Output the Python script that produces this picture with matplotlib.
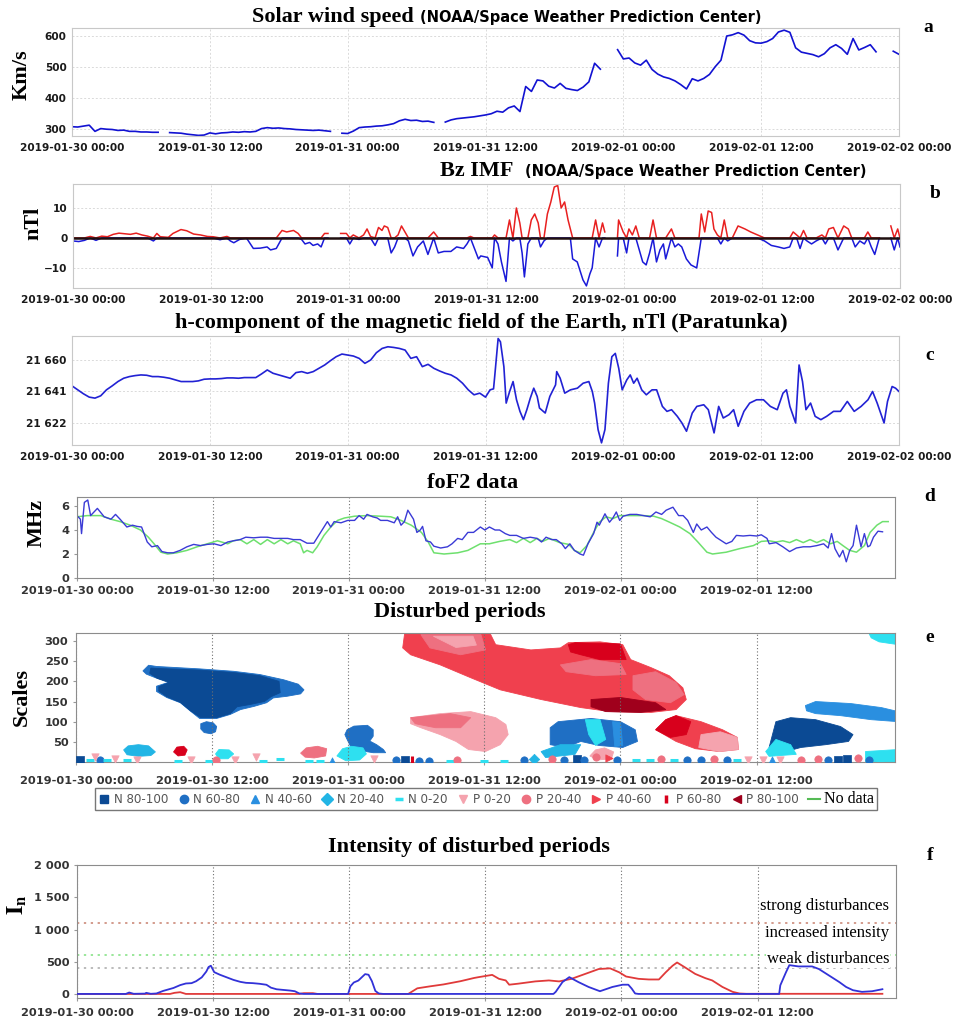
import numpy as np
import pandas as pd
import matplotlib
matplotlib.use('Agg')
import matplotlib.pyplot as plt
from matplotlib.ticker import FuncFormatter, FixedLocator, MultipleLocator
from matplotlib.patches import Polygon
from matplotlib.lines import Line2D

plt.rcParams['mathtext.fontset'] = 'stix'

W, H = 961, 1018
START = pd.Timestamp('2019-01-30 00:00')
SERIF = 'Liberation Serif'

# a: solar wind speed (km/s), one value every 30 min from 2019-01-30 00:00, nan = gap
WIND_SPEED = [
    307, 306, 309, 312, 292, 301, 299, 298, 295, 296, 292, 292, 290, 290, 289, 289,
    np.nan, 288, 287, 286, 283, 281, 279, 280, 287, 284, 287, 288, 290, 289, 291, 290,
    292, 301, 304, 302, 303, 301, 300, 298, 297, 296, 295, 296, 294, 292, np.nan, 286,
    285, 293, 304, 306, 307, 309, 310, 313, 317, 326, 331, 327, 328, 324, 325, 321,
    np.nan, 322, 329, 333, 335, 337, 339, 342, 345, 349, 357, 354, 368, 374, 356, 437,
    421, 458, 455, 438, 432, 447, 431, 427, 424, 435, 452, 512, 493, np.nan, np.nan, 556,
    526, 529, 513, 506, 522, 492, 477, 468, 463, 455, 443, 429, 462, 455, 463, 476,
    501, 522, 600, 604, 611, 603, 585, 578, 577, 582, 592, 613, 619, 612, 562, 548,
    544, 540, 533, 543, 562, 572, 560, 541, 592, 555, 563, 572, 549, np.nan, np.nan, 551,
    541,
]

# b: Bz IMF (hour, nT)
BZ_POINTS = [
    (0, -1), (0.5, -1.2), (1, -0.8), (1.5, 0.5), (2, -0.8), (2.5, 0.6), (3, 0.4), (3.5, 1.2),
    (4, 1.6), (4.5, 1.4), (5, 1.2), (5.5, 1.6), (6, 1.0), (6.5, 0.6), (7, -1), (7.3, 1.5),
    (7.6, 0.4), (8.3, 0.2), (8.7, 1.5), (9.4, 2.8), (9.9, 2.4), (10.5, 1.3), (11.1, 1.0),
    (11.7, 0.5), (12.2, 0.4), (12.8, -0.6), (13.4, 0.5), (13.7, -1), (14, -1.6), (14.5, -0.5),
    (15.1, 0.0), (15.7, -3.5), (16.3, -3.4), (16.9, -3.0), (17.2, -4), (17.7, -3.5), (18.2, 2.5),
    (18.6, 2.0), (19.2, 2.5), (19.6, 1.5), (19.9, -0.5), (20.2, -2), (20.6, -1.5), (20.9, -2.5),
    (21.3, -2), (21.6, -3), (21.9, 1.5), (22.2, 1.5), (22.6, np.nan), (23.3, 1.5), (23.8, 1.5),
    (24.1, -2), (24.4, 1), (24.9, -0.5), (25.3, 1), (25.6, 3), (25.9, 0.5), (26.3, -2.5),
    (26.6, 3.5), (26.9, 2.5), (27.1, 4), (27.4, 3.5), (27.7, -5), (28, -3), (28.3, 1), (28.6, 4),
    (28.9, 2), (29.2, -1), (29.6, -6), (30, -3), (30.5, -1), (30.9, -5.5), (31.4, 2), (31.8, -5),
    (32.3, -4.5), (32.9, -4.5), (33.4, -3), (34, -3.5), (34.3, -2), (34.6, 0.5), (34.9, -3),
    (35.3, -7), (35.5, -6), (36.1, -6.5), (36.5, -10), (36.7, 1), (37, -2), (37.3, -8),
    (37.7, -14.5), (38, 6), (38.3, -1), (38.6, 10), (38.9, 5), (39.1, -5), (39.3, -13),
    (39.6, -2), (39.9, 6), (40.2, 8), (40.5, 5), (40.7, -3), (41, -1), (41.3, 8), (41.6, 12),
    (41.9, 17), (42.2, 17.5), (42.5, 10), (42.8, 12), (43.1, 6), (43.3, 3), (43.5, -7),
    (43.9, -8), (44.4, -14), (44.7, -16), (45, -12), (45.2, -10), (45.5, 6), (45.8, -3),
    (46.1, 5), (46.3, 2), (46.8, np.nan), (47.4, -6), (47.5, 6), (47.9, 2), (48.2, -5),
    (48.4, 3), (48.7, 1), (49, 4), (49.3, -4), (49.6, -8), (49.9, -9), (50.2, -5), (50.5, 6),
    (50.8, -8), (51.1, -4), (51.4, -2), (51.6, -7), (52.1, 3), (52.4, -3), (52.7, -2), (53, -3),
    (53.4, -7), (53.8, -9), (54.3, -10), (54.5, -5), (54.7, 8), (55, 2), (55.3, 9), (55.6, 8.5),
    (55.8, 3), (56.1, 1), (56.4, -2), (56.7, 6), (57, -1), (57.4, 0), (57.9, 4), (58.5, 3),
    (59, 2), (59.6, 1), (60.2, -1), (60.8, -2.5), (61.4, -3), (61.9, -3.5), (62.4, -3), (62.7, 2),
    (63, 1), (63.3, -3.5), (63.6, 2.5), (63.9, -1), (64.3, -2), (64.7, -1), (65.2, 1), (65.5, -2),
    (65.8, 3), (66.2, 3.5), (66.6, -4), (67.1, 4), (67.5, 3), (67.8, 0), (68.1, -3), (68.5, -1),
    (68.9, -2), (69.2, 2), (69.5, -3), (69.8, -5.5), (70.2, 0), (70.7, np.nan), (71.2, 4),
    (71.5, -4), (71.8, 3), (72, -3),
]

# c: H-component at Paratunka (hour, nT)
H_POINTS = [
    (0, 21644.4), (0.5, 21642), (1, 21639.6), (1.5, 21637.6), (2, 21637), (2.5, 21638.4),
    (3, 21642), (3.5, 21644.4), (4, 21647), (4.5, 21649), (5, 21650), (5.5, 21650.6), (6, 21651),
    (6.5, 21650.8), (7, 21650), (7.5, 21650), (8, 21649.6), (8.5, 21649), (9, 21648), (9.5, 21647),
    (10, 21647), (10.5, 21647), (11, 21647.4), (11.5, 21648.4), (12, 21648.6), (12.5, 21648.6),
    (13, 21648.8), (13.5, 21649.2), (14, 21649.2), (14.5, 21649), (15, 21649.4), (15.5, 21649.4),
    (16, 21649.4), (16.5, 21651.6), (17, 21654), (17.5, 21652), (18, 21651), (18.5, 21650),
    (19, 21649), (19.5, 21652.4), (20, 21653), (20.5, 21652), (21, 21653), (21.5, 21655),
    (22, 21657), (22.5, 21659.6), (23, 21662), (23.5, 21663.6), (24, 21663), (24.5, 21662.4),
    (25, 21661), (25.5, 21658), (26, 21660), (26.5, 21664.4), (27, 21667), (27.5, 21668),
    (28, 21667.6), (28.5, 21667), (29, 21666), (29.5, 21661), (30, 21662), (30.5, 21656),
    (31, 21657.4), (31.5, 21655), (32, 21653.4), (32.5, 21652), (33, 21651), (33.5, 21649),
    (34, 21646), (34.5, 21642), (35, 21639), (35.5, 21640), (36, 21637.6), (36.4, 21642),
    (36.7, 21642.6), (36.8, 21650), (37.1, 21673), (37.3, 21671), (37.6, 21656), (37.8, 21634),
    (38.1, 21641), (38.4, 21647), (38.7, 21636), (39, 21629), (39.3, 21624), (39.6, 21630),
    (39.9, 21637), (40.2, 21643), (40.5, 21638), (40.7, 21631), (41.2, 21628), (41.6, 21638),
    (42.1, 21645), (42.2, 21653), (42.5, 21649), (42.9, 21640), (43.4, 21642), (44, 21643),
    (44.5, 21646), (45, 21647), (45.3, 21641), (45.5, 21634), (45.8, 21618), (46.1, 21610),
    (46.4, 21618), (46.7, 21646), (47, 21662), (47.3, 21664), (47.6, 21655), (47.9, 21642),
    (48.3, 21648), (48.6, 21651), (48.9, 21646), (49.2, 21649), (49.6, 21642), (50, 21639),
    (50.5, 21642), (50.9, 21642), (51.4, 21632), (51.8, 21629), (52.2, 21630), (52.7, 21626),
    (53.1, 21622), (53.5, 21617), (54, 21628), (54.4, 21632), (55, 21633), (55.4, 21630),
    (55.9, 21616), (56.3, 21632), (56.7, 21625), (57.2, 21627), (57.6, 21630), (58, 21620),
    (58.5, 21629), (59, 21634), (59.6, 21636), (60.2, 21636), (60.8, 21632), (61.4, 21630),
    (61.9, 21640), (62.2, 21642), (62.5, 21632), (63, 21622), (63.3, 21657), (63.6, 21647),
    (63.9, 21630), (64.3, 21634), (64.7, 21626), (65.2, 21624), (65.7, 21626), (66.3, 21629),
    (66.9, 21629), (67.5, 21635), (68.1, 21629), (68.7, 21632), (69.3, 21636), (69.7, 21641),
    (70.1, 21634), (70.4, 21628), (70.7, 21622), (71, 21635), (71.4, 21644), (71.7, 21643),
    (72, 21641),
]

# d: foF2 (hour, MHz): observed and median
FOF2_OBS = [
    (0, 5.2), (0.3, 4.9), (0.4, 3.7), (0.65, 6.3), (0.95, 6.5), (1.2, 5.2), (1.8, 5.8), (2.4, 5.1),
    (3, 4.9), (3.4, 5.3), (3.8, 4.9), (4.4, 4.25), (4.9, 4.4), (5.3, 4.3), (5.7, 4.25), (6.2, 3.0),
    (6.6, 2.6), (7.1, 2.7), (7.5, 2.2), (8, 2.1), (8.5, 2.1), (9.1, 2.3), (9.7, 2.6), (10.3, 2.8),
    (10.9, 2.7), (11.5, 2.8), (12.1, 2.85), (12.7, 2.7), (13.3, 3.0), (13.8, 3.1), (14.4, 3.2),
    (14.9, 3.4), (15.6, 3.35), (16.2, 3.4), (16.8, 3.4), (17.4, 3.3), (18, 3.3), (18.6, 3.3),
    (19.1, 3.2), (19.7, 3.2), (20.3, 2.9), (20.9, 2.9), (21.5, 3.8), (22.1, 4.7), (22.4, 4.25),
    (22.7, 4.7), (23.3, 4.6), (23.9, 4.8), (24.5, 4.8), (24.9, 5.2), (25.3, 4.9), (25.6, 5.3),
    (26.1, 5.1), (26.5, 5.0), (26.8, 4.8), (27.4, 4.8), (28, 4.6), (28.3, 5.1), (28.6, 4.4),
    (28.9, 4.7), (29.2, 5.65), (29.7, 4.9), (30, 3.8), (30.3, 4.0), (30.5, 4.3), (30.8, 3.1),
    (31.2, 3.0), (31.5, 2.65), (32.1, 2.5), (32.7, 2.6), (33.1, 2.85), (33.6, 3.3), (34, 3.2),
    (34.5, 3.8), (35, 3.8), (35.6, 4.25), (36, 4.0), (36.4, 4.25), (36.9, 4.0), (37.3, 4.0),
    (37.8, 3.7), (38.2, 3.55), (38.8, 3.55), (39.4, 3.3), (40, 3.4), (40.6, 3.3), (41, 3.0),
    (41.4, 3.4), (41.9, 3.2), (42.3, 3.2), (42.8, 2.85), (43.1, 2.45), (43.5, 2.85), (43.9, 2.3),
    (44.4, 2.0), (44.7, 1.9), (45.1, 2.85), (45.6, 3.7), (45.9, 4.65), (46.1, 4.4), (46.6, 5.35),
    (47, 4.65), (47.3, 5.0), (47.6, 5.5), (47.9, 4.8), (48.2, 5.15), (48.8, 5.3), (49.4, 5.3),
    (50, 5.2), (50.6, 5.1), (51.1, 5.5), (51.6, 5.3), (52, 5.65), (52.6, 5.9), (53.1, 5.2),
    (53.5, 5.2), (53.9, 4.8), (54.4, 3.8), (54.7, 4.5), (55.1, 4.0), (55.6, 4.25), (56, 3.8),
    (56.4, 3.4), (56.9, 3.1), (57.3, 2.85), (57.8, 3.05), (58.2, 3.55), (58.8, 3.5), (59.4, 3.55),
    (60, 3.5), (60.4, 3.6), (60.9, 3.3), (61.1, 2.85), (61.7, 2.95), (62.3, 2.6), (62.9, 2.2),
    (63.5, 2.5), (64.1, 2.6), (64.7, 2.6), (65.3, 2.7), (65.9, 2.85), (66.3, 2.5), (66.6, 3.7),
    (66.9, 2.45), (67.3, 1.75), (67.6, 2.3), (67.9, 1.35), (68.2, 2.3), (68.5, 2.7), (68.8, 4.4),
    (69.2, 2.6), (69.5, 3.7), (69.8, 2.6), (70, 2.7), (70.3, 3.4), (70.7, 3.9), (71.1, 3.85),
]
FOF2_MEDIAN = [
    (0, 5.1), (0.9, 5.2), (2.1, 5.2), (3, 4.9), (3.8, 4.7), (4.7, 4.4), (5.6, 4.0), (6.3, 3.4),
    (6.8, 2.85), (7.4, 2.15), (8, 2.0), (8.8, 2.1), (9.7, 2.3), (10.6, 2.6), (11.5, 2.85),
    (12.4, 3.1), (13.3, 2.85), (13.8, 3.1), (14.4, 3.2), (15, 2.85), (15.6, 3.2), (16.2, 2.8),
    (16.8, 3.2), (17.4, 2.85), (18, 3.2), (18.6, 2.85), (19.1, 3.1), (19.7, 2.85), (20, 2.1),
    (20.3, 2.3), (20.8, 2.1), (21.2, 2.6), (21.8, 3.55), (22.4, 4.25), (23, 4.8), (23.6, 5.0),
    (24.5, 5.15), (25.6, 5.2), (26.8, 5.15), (27.7, 5.1), (28.6, 4.8), (29.5, 4.4), (30.4, 3.8),
    (31, 3.0), (31.5, 2.1), (32.4, 2.0), (33.6, 2.1), (34.5, 2.3), (35.6, 2.85), (36.4, 2.85),
    (37.3, 3.05), (38.2, 3.2), (38.8, 2.95), (39.4, 3.3), (40, 2.95), (40.6, 3.3), (41.1, 3.05),
    (41.7, 3.3), (42.6, 2.95), (43.4, 2.8), (43.9, 2.3), (44.4, 2.1), (45, 2.7), (45.6, 3.8),
    (46.1, 4.65), (46.7, 5.1), (47.3, 4.95), (47.9, 5.2), (48.8, 5.2), (50, 5.2), (50.9, 5.15),
    (51.6, 4.95), (52.3, 4.65), (53.2, 4.25), (54.1, 3.7), (54.8, 3.0), (55.6, 2.15), (56.1, 2.0),
    (57.3, 2.15), (58.5, 2.45), (59.7, 2.7), (60.4, 3.05), (61.1, 3.1), (61.7, 3.0), (62.3, 3.1),
    (62.9, 2.95), (63.5, 3.2), (64.1, 2.95), (64.7, 3.2), (65.3, 2.95), (65.9, 3.2), (66.5, 2.85),
    (67.1, 3.05), (67.6, 2.7), (68.2, 2.3), (68.8, 2.15), (69.5, 2.7), (70, 3.8), (70.6, 4.4),
    (71.1, 4.7), (71.6, 4.7),
]

# e: disturbed periods, outlines in (hour, scale); class 0..4 = N 80-100..N 0-20, 5..9 = P 0-20..P 80-100
CLASS_COLORS = ['#0b4a94', '#1f6fc4', '#2a8fe0', '#22b5e5', '#2ee0f0',
                '#f5a3ae', '#ee7080', '#f0404e', '#d8001c', '#a0001c']
CLASS_MARKERS = ['s', 'o', '^', 'D', '_', 'v', 'o', '>', '|', '<']
LEGEND_LABELS = ['N 80-100', 'N 60-80', 'N 40-60', 'N 20-40', 'N 0-20',
                 'P 0-20', 'P 20-40', 'P 40-60', 'P 60-80', 'P 80-100', 'No data']

BLOBS = [
    # (class, outline)
    (7, [(28.8, 283), (29.0, 325), (36.4, 325), (37.0, 291), (40.1, 278), (42.7, 283), (43.4, 296),
         (46.2, 298), (48.2, 291), (48.9, 254), (50.7, 234), (52.3, 214), (53.5, 184), (53.8, 155),
         (52.9, 130), (50.7, 123), (47.1, 125), (44.5, 135), (41.0, 155), (37.4, 179), (34.8, 209),
         (32.1, 241), (29.5, 266)]),
    (6, [(30.4, 316), (35.7, 316), (36.1, 278), (33.9, 266), (31.2, 283)]),
    (5, [(31.5, 312), (35.0, 312), (35.3, 290), (33.5, 284)]),
    (6, [(42.7, 241), (45.4, 254), (48.0, 244), (48.5, 217), (45.8, 214), (43.2, 224)]),
    (6, [(49.1, 214), (51.1, 224), (52.9, 197), (53.6, 167), (52.4, 147), (50.2, 155), (49.1, 179)]),
    (8, [(43.4, 291), (44.0, 296), (48.0, 293), (48.5, 254), (46.2, 254), (44.5, 266), (43.6, 273)]),
    (9, [(45.4, 155), (48.0, 160), (51.1, 147), (52.0, 130), (49.8, 123), (46.7, 125), (45.4, 137)]),
    (1, [(5.9, 226), (6.4, 240), (7.1, 237), (10.9, 231), (13.9, 225), (16.2, 217), (18.3, 204),
         (19.6, 193), (20.1, 179), (19.8, 169), (18.6, 163), (17.4, 159), (16.8, 147), (15.7, 138),
         (14.5, 130), (13.6, 118), (12.4, 108), (10.9, 108), (10.1, 126), (9.2, 147), (8.0, 160),
         (7.1, 175), (7.1, 188), (8.3, 199), (7.1, 208), (6.2, 218)]),
    (0, [(6.6, 233), (7.2, 232), (10.9, 228), (13.9, 222), (16.2, 214), (17.9, 200), (18.0, 172),
         (17.2, 162), (16.6, 150), (15.4, 143), (14.2, 137), (13.6, 120), (12.4, 110), (11.0, 110),
         (10.1, 127), (9.2, 148), (8.0, 162), (7.3, 176), (7.3, 187), (8.2, 197), (7.2, 207),
         (6.5, 220)]),
    (1, [(11.0, 95), (11.5, 100), (12.1, 97), (12.4, 88), (12.3, 75), (11.9, 70), (11.3, 73), (11.0, 82)]),
    (1, [(23.9, 80), (24.5, 89), (25.7, 91), (26.2, 80), (26.2, 64), (25.9, 52), (26.5, 43), (27.1, 31),
         (27.3, 23), (26.2, 23), (25.1, 28), (24.2, 39), (23.9, 56), (23.7, 68)]),
    (5, [(29.5, 110), (32.1, 120), (34.8, 125), (37.0, 110), (37.9, 93), (38.1, 68), (37.4, 43),
         (36.1, 26), (34.6, 31), (33.5, 51), (32.1, 68), (30.4, 85), (29.5, 95)]),
    (6, [(29.5, 110), (33.0, 120), (34.8, 110), (33.9, 85), (31.7, 85), (29.9, 95)]),
    (1, [(41.8, 85), (42.5, 100), (45.4, 108), (48.0, 100), (49.3, 80), (49.5, 51), (48.2, 36),
         (46.1, 41), (44.5, 51), (43.2, 36), (41.8, 43)]),
    (4, [(44.9, 105), (46.2, 105), (46.7, 56), (45.8, 41), (45.2, 68)]),
    (2, [(47.3, 100), (48.0, 98), (48.2, 41), (47.5, 38)]),
    (3, [(41.0, 26), (42.7, 43), (44.5, 43), (44.0, 19), (41.4, 11)]),
    (7, [(51.1, 80), (52.0, 105), (52.9, 115), (55.1, 100), (57.0, 80), (58.3, 61), (58.4, 31),
         (56.7, 26), (54.6, 33), (52.9, 51)]),
    (8, [(51.1, 80), (52.0, 105), (52.9, 115), (54.2, 100), (53.8, 68), (52.4, 61)]),
    (5, [(55.1, 68), (56.8, 75), (58.3, 61), (58.4, 31), (56.7, 26), (54.9, 36)]),
    (0, [(61.7, 100), (63.0, 110), (65.2, 105), (67.4, 88), (68.5, 68), (68.1, 51), (66.1, 43),
         (63.9, 36), (62.6, 26), (61.3, 19), (61.1, 36)]),
    (4, [(60.8, 26), (61.7, 56), (63.0, 43), (63.5, 19), (61.1, 14)]),
    (2, [(64.3, 140), (65.2, 150), (68.3, 145), (71.0, 135), (72.5, 125), (72.5, 100), (70.1, 105),
         (67.4, 115), (65.2, 120), (64.4, 127)]),
    (4, [(69.8, 325), (72.5, 325), (72.5, 291), (70.8, 298), (70.1, 308)]),
    (4, [(69.6, 26), (72.5, 31), (72.5, 0), (69.6, 0)]),
    (3, [(4.2, 30), (4.6, 40), (5.5, 43), (6.4, 40), (7.0, 25), (6.6, 16), (5.5, 14), (4.5, 18)]),
    (8, [(8.6, 25), (8.9, 37), (9.5, 39), (9.8, 30), (9.6, 17), (9.0, 15)]),
    (4, [(12.3, 20), (12.6, 31), (13.5, 30), (13.9, 20), (13.4, 8), (12.6, 8)]),
    (6, [(19.8, 22), (20.3, 35), (21.3, 39), (22.1, 33), (22.0, 15), (21.0, 10), (20.2, 12)]),
    (4, [(23.0, 15), (23.5, 33), (24.3, 39), (25.3, 35), (25.6, 20), (25.0, 5), (23.8, 3)]),
    (5, [(45.3, 15), (45.8, 30), (46.6, 35), (47.4, 25), (47.2, 8), (46.0, 5)]),
]

# small single-scale events along the bottom (hour, scale, class)
EVENTS = [
    (0.35, 5, 0), (1.2, 5, 4), (1.7, 12, 5), (2.1, 5, 1), (2.7, 5, 4), (3.4, 8, 5), (4.5, 5, 4),
    (5.4, 5, 5), (9.0, 3, 4), (10.1, 5, 5), (11.7, 3, 4), (12.3, 5, 6), (14.0, 5, 5), (15.9, 12, 5),
    (16.5, 3, 4), (18.0, 8, 4), (20.5, 3, 4), (21.5, 3, 4), (22.6, 3, 2), (26.3, 8, 5), (28.2, 5, 1),
    (29.0, 5, 0), (29.6, 5, 8), (30.2, 3, 1), (31.1, 3, 1), (33.0, 3, 4), (33.6, 5, 6), (36.0, 3, 4),
    (37.7, 3, 4), (39.5, 5, 1), (40.4, 8, 3), (42.0, 8, 6), (43.0, 5, 1), (44.2, 8, 0), (44.8, 5, 1),
    (45.8, 12, 6), (47.0, 10, 7), (47.7, 5, 1), (49.4, 5, 4), (50.6, 5, 4), (51.6, 8, 6), (52.7, 5, 4),
    (53.9, 5, 1), (55.1, 5, 1), (56.2, 8, 6), (57.4, 5, 1), (58.3, 5, 4), (59.2, 5, 5), (60.6, 5, 5),
    (61.4, 5, 2), (62.1, 5, 5), (63.9, 5, 6), (65.4, 8, 6), (66.3, 5, 1), (67.2, 5, 0), (68.0, 8, 0),
    (68.9, 10, 6), (69.9, 5, 1), (70.9, 5, 4),
]

# f: intensity of disturbed periods (hour, I_n) for negative (N) and positive (P) periods
INTENSITY_N = [
    (0, 3), (4.3, 3), (4.6, 25), (5, 5), (6, 8), (6.1, 20), (6.5, 5), (7, 10), (7.6, 50), (8.5, 95),
    (9.1, 140), (9.6, 165), (10.1, 170), (10.5, 200), (11, 260), (11.4, 350), (11.6, 420),
    (11.8, 440), (12.1, 340), (12.6, 300), (13.2, 260), (13.8, 220), (14.4, 190), (14.9, 175),
    (15.5, 170), (16.1, 160), (16.7, 145), (17.1, 100), (17.6, 75), (18.2, 65), (18.8, 55),
    (19.2, 45), (19.6, 10), (20, 3), (23.9, 3), (24.1, 120), (24.4, 180), (24.8, 210), (25.1, 260),
    (25.4, 310), (25.7, 300), (26, 200), (26.3, 50), (26.6, 10), (27, 3), (42, 3), (42.2, 35),
    (42.8, 187), (43.4, 263), (44.2, 187), (45.1, 111), (46.1, 45), (47.2, 111), (48.1, 146),
    (48.6, 146), (48.9, 86), (49.2, 10), (49.5, 3), (61.9, 3), (62, 136), (62.5, 338), (62.8, 449),
    (63.6, 429), (64.8, 429), (65.4, 389), (66.3, 288), (67.2, 187), (67.8, 111), (68.4, 61),
    (69.2, 35), (70.1, 45), (71, 76),
]
INTENSITY_P = [
    (0, 3), (8.2, 3), (8.6, 20), (9.1, 30), (9.6, 3), (19.6, 3), (20, 15), (20.8, 15), (21.2, 3),
    (29.2, 3), (30, 90), (31.1, 120), (32.3, 150), (33.8, 200), (35, 250), (35.4, 263), (36.6, 298),
    (37.2, 237), (37.8, 212), (38.1, 146), (38.9, 162), (40.4, 197), (41.6, 212), (42.5, 197),
    (43.6, 237), (44.8, 313), (46, 389), (47, 399), (47.8, 338), (48.4, 273), (49.5, 237),
    (50.4, 227), (51.3, 227), (51.9, 338), (52.5, 439), (52.9, 490), (53.6, 414), (54.5, 313),
    (55.4, 247), (56, 212), (56.9, 111), (57.8, 35), (58.4, 10), (59, 5), (71, 5),
]
THRESHOLDS = [1100, 600, 400]
THRESHOLD_COLORS = ['#c8806e', '#7ee07e', '#a8a8a8']
THRESHOLD_LABELS = ['strong disturbances', 'increased intensity', 'weak disturbances']
THRESHOLD_LABEL_Y = [1360, 945, 545]


def hour_label(h, pos=None):
    return (START + pd.Timedelta(hours=float(h))).strftime('%Y-%m-%d %H:%M')


def add_panel(l, t, r, b):
    return fig.add_axes([l / W, 1 - b / H, (r - l) / W, (b - t) / H])


def bold_ticks(ax):
    for lab in ax.get_xticklabels() + ax.get_yticklabels():
        lab.set_fontweight('bold')


def style_noaa(ax):
    ax.set_xlim(0, 72)
    ax.xaxis.set_major_locator(MultipleLocator(12))
    ax.xaxis.set_major_formatter(FuncFormatter(hour_label))
    ax.grid(True, color='#dadada', linestyle=(0, (2, 2)), linewidth=0.7)
    for sp in ax.spines.values():
        sp.set_color('#c8c8c8')
    ax.tick_params(length=0, labelsize=7.6, labelcolor='#1a1a1a')
    ax.tick_params(axis='x', pad=5)
    ax.tick_params(axis='y', pad=4)
    bold_ticks(ax)


def style_iki(ax):
    ax.set_xlim(0, 72.2)
    ax.xaxis.set_major_locator(FixedLocator([0, 12, 24, 36, 48, 60]))
    ax.xaxis.set_major_formatter(FuncFormatter(hour_label))
    ax.grid(True, axis='x', color='#707070', linestyle=(0, (1, 2)), linewidth=0.8)
    for sp in ax.spines.values():
        sp.set_color('#8c8c8c')
    ax.tick_params(length=2, color='#999999', labelsize=8.2, labelcolor='#333333')
    bold_ticks(ax)


def fig_text(x, y, s, **kw):
    fig.text(x / W, 1 - y / H, s, **kw)


fig = plt.figure(figsize=(W / 100, H / 100), dpi=100)

# --- a: solar wind speed
ax_a = add_panel(72, 28, 899, 136)
wind_hours = np.arange(len(WIND_SPEED)) * 0.5
ax_a.plot(wind_hours, WIND_SPEED, color='#1212d2', lw=1.2)
ax_a.set_ylim(277, 626)
ax_a.set_yticks([300, 400, 500, 600])
style_noaa(ax_a)

# --- b: Bz IMF, red when northward, blue when southward
ax_b = add_panel(73, 184, 900, 288)
bz_h, bz_v = np.array(BZ_POINTS).T
ax_b.plot(bz_h, np.minimum(bz_v, 0), color='#1a1ad8', lw=1.1)
ax_b.plot(bz_h, np.maximum(bz_v, 0), color='#e82020', lw=1.1)
ax_b.axhline(0, color='#201010', lw=1.8)
ax_b.set_ylim(-16.7, 18)
ax_b.set_yticks([-10, 0, 10])
style_noaa(ax_b)

# --- c: H-component
ax_c = add_panel(72, 336, 899, 445)
hc_h, hc_v = np.array(H_POINTS).T
ax_c.plot(hc_h, hc_v, color='#2222d4', lw=1.2)
ax_c.set_ylim(21608.7, 21674.5)
ax_c.yaxis.set_major_locator(FixedLocator([21622, 21641, 21660]))
ax_c.yaxis.set_major_formatter(FuncFormatter(lambda v, p: f'{int(v):,}'.replace(',', ' ')))
style_noaa(ax_c)

# --- d: foF2
ax_d = add_panel(77, 497, 895, 578)
med_h, med_v = np.array(FOF2_MEDIAN).T
obs_h, obs_v = np.array(FOF2_OBS).T
ax_d.plot(med_h, med_v, color='#6ee06e', lw=1.1)
ax_d.plot(obs_h, obs_v, color='#3a3ad6', lw=1.0)
ax_d.set_ylim(0, 6.75)
ax_d.set_yticks([0, 2, 4, 6])
style_iki(ax_d)

# --- e: disturbed periods
ax_e = add_panel(76, 633, 895, 762)
for cls, outline in BLOBS:
    ax_e.add_patch(Polygon(outline, closed=True, facecolor=CLASS_COLORS[cls],
                           edgecolor=CLASS_COLORS[cls], lw=0.6))
ev = np.array(EVENTS)
for cls in range(10):
    sel = ev[:, 2] == cls
    if sel.any():
        ax_e.scatter(ev[sel, 0], ev[sel, 1], marker=CLASS_MARKERS[cls], s=28,
                     color=CLASS_COLORS[cls], linewidths=2.2 if cls in (4, 8) else 0.5, zorder=3)
ax_e.set_ylim(0, 320)
ax_e.set_yticks([50, 100, 150, 200, 250, 300])
style_iki(ax_e)
ax_e.tick_params(axis='x', pad=8)

handles = []
for cls in range(10):
    handles.append(Line2D([], [], linestyle='none', marker=CLASS_MARKERS[cls], markersize=6,
                          color=CLASS_COLORS[cls], markeredgewidth=2.5 if cls in (4, 8) else 1))
handles.append(Line2D([], [], color='#55bb55', lw=1.5))
leg = fig.legend(handles, LEGEND_LABELS, ncol=11, loc='center',
                 bbox_to_anchor=(486 / W, 1 - 799 / H), fontsize=8.6, frameon=True,
                 fancybox=False, edgecolor='#555555', handlelength=1.0, handletextpad=0.3,
                 columnspacing=0.78, borderpad=0.25)
for txt in leg.get_texts():
    txt.set_color('#555555')
leg.get_texts()[-1].set_fontfamily(SERIF)
leg.get_texts()[-1].set_fontsize(11.5)
leg.get_texts()[-1].set_color('black')

# --- f: intensity; threshold lines sit under the labels, data lines on top
ax_f = add_panel(77, 865, 896, 998)
pn_h, pn_v = np.array(INTENSITY_N).T
pp_h, pp_v = np.array(INTENSITY_P).T
for level, col in zip(THRESHOLDS, THRESHOLD_COLORS):
    ax_f.axhline(level, color=col, lw=1.1, linestyle=(0, (1.5, 3)), zorder=1)
for label, y in zip(THRESHOLD_LABELS, THRESHOLD_LABEL_Y):
    ax_f.text(71.6, y, label, ha='right', va='center', fontfamily=SERIF, fontsize=12, zorder=2,
              bbox=dict(facecolor='white', edgecolor='none', pad=0.5))
ax_f.plot(pp_h, pp_v, color='#e03a3a', lw=1.3, zorder=3)
ax_f.plot(pn_h, pn_v, color='#3232d8', lw=1.3, zorder=3)
ax_f.set_ylim(-60, 2000)
ax_f.yaxis.set_major_locator(FixedLocator([0, 500, 1000, 1500, 2000]))
ax_f.yaxis.set_major_formatter(FuncFormatter(lambda v, p: f'{int(v):,}'.replace(',', ' ')))
style_iki(ax_f)
ax_f.tick_params(axis='x', pad=5)

# --- titles, axis names and panel letters
serif_bold = dict(fontfamily=SERIF, fontweight='bold')
fig_text(414, 22, 'Solar wind speed', ha='right', va='baseline', fontsize=16, **serif_bold)
fig_text(420, 22, '(NOAA/Space Weather Prediction Center)', ha='left', va='baseline',
         fontsize=10.5, fontweight='bold', fontfamily='DejaVu Sans')
fig_text(514, 176, 'Bz IMF', ha='right', va='baseline', fontsize=16, **serif_bold)
fig_text(525, 176, '(NOAA/Space Weather Prediction Center)', ha='left', va='baseline',
         fontsize=10.5, fontweight='bold', fontfamily='DejaVu Sans')
fig_text(481, 328, 'h-component of the magnetic field of the Earth, nTl (Paratunka)',
         ha='center', va='baseline', fontsize=16, **serif_bold)
fig_text(473, 488, 'foF2 data', ha='center', va='baseline', fontsize=16, **serif_bold)
fig_text(460, 617, 'Disturbed periods', ha='center', va='baseline', fontsize=16, **serif_bold)
fig_text(469, 852, 'Intensity of disturbed periods', ha='center', va='baseline', fontsize=16,
         **serif_bold)

for x, y, s in [(22, 75, 'Km/s'), (33, 223, 'nTl'), (37, 523, 'MHz'), (22, 697, 'Scales')]:
    fig_text(x, y, s, ha='center', va='center', rotation=90, fontsize=16, **serif_bold)
fig_text(17, 905, r'$\mathbf{I_n}$', ha='center', va='center', rotation=90, fontsize=17)

for x, y, s in [(928, 28, 'a'), (935, 193, 'b'), (930, 355, 'c'), (930, 497, 'd'),
                (930, 637, 'e'), (930, 855, 'f')]:
    fig_text(x, y, s, ha='center', va='center', fontsize=14, **serif_bold)

fig.savefig('out.png', dpi=100, facecolor='white')
